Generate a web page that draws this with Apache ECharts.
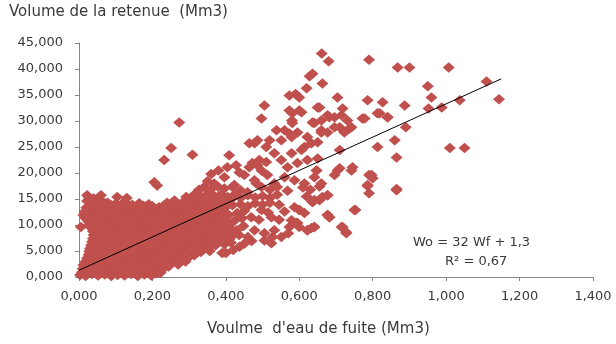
<!DOCTYPE html>
<html>
<head>
<meta charset="utf-8">
<script src="https://cdn.jsdelivr.net/npm/echarts@6/dist/echarts.min.js"></script>
<style>
  html, body { margin: 0; padding: 0; background: #fff; }
  #main { width: 616px; height: 344px; }
</style>
</head>
<body>
<div id="main"></div>
<script>
// x ticks / y ticks
var xTicks = [0, 0.2, 0.4, 0.6, 0.8, 1.0, 1.2, 1.4];
var yTicks = [0, 5, 10, 15, 20, 25, 30, 35, 40, 45];

// dense cluster near origin (row by row)
var blobPoints = [
  [0.003,0.4],[0.018,0.2],[0.035,0.6],[0.052,0.3],[0.07,0.5],[0.088,0.2],[0.105,0.4],[0.124,0.3],[0.142,0.6],[0.16,0.2],[0.178,0.5],[0.197,0.3],[0.212,0.7],
  [0.01,1.6],[0.027,1.2],[0.045,1.8],[0.063,1.4],[0.08,1.7],[0.098,1.3],[0.116,1.9],[0.134,1.5],[0.152,1.2],[0.17,1.8],[0.188,1.4],[0.206,1.7],[0.225,1.3],
  [0.018,3.0],[0.036,2.6],[0.054,3.1],[0.072,2.7],[0.09,3.0],[0.108,2.5],[0.126,3.2],[0.144,2.8],[0.162,2.6],[0.18,3.1],[0.198,2.7],[0.216,3.0],[0.234,2.6],[0.252,2.9],[0.27,2.4],
  [0.026,4.3],[0.044,3.9],[0.062,4.4],[0.08,4.0],[0.098,4.2],[0.116,3.8],[0.134,4.5],[0.152,4.1],[0.17,3.9],[0.188,4.4],[0.206,4.0],[0.224,4.3],[0.242,3.9],[0.26,4.4],[0.278,4.0],[0.296,3.6],[0.314,4.2],
  [0.03,5.5],[0.05,5.2],[0.068,5.7],[0.086,5.3],[0.104,5.6],[0.122,5.1],[0.14,5.8],[0.158,5.4],[0.176,5.2],[0.194,5.7],[0.212,5.3],[0.23,5.6],[0.248,5.2],[0.266,5.7],[0.284,5.3],[0.302,5.6],[0.32,5.1],[0.338,5.5],[0.356,5.0],
  [0.036,6.8],[0.054,6.5],[0.072,7.0],[0.09,6.6],[0.108,6.9],[0.126,6.4],[0.144,7.1],[0.162,6.7],[0.18,6.5],[0.198,7.0],[0.216,6.6],[0.234,6.9],[0.252,6.5],[0.27,7.0],[0.288,6.6],[0.306,6.9],[0.324,6.4],[0.342,6.9],[0.36,6.5],[0.378,6.8],[0.396,6.3],
  [0.04,8.1],[0.058,7.8],[0.076,8.3],[0.094,7.9],[0.112,8.2],[0.13,7.7],[0.148,8.4],[0.166,8.0],[0.184,7.8],[0.202,8.3],[0.22,7.9],[0.238,8.2],[0.256,7.8],[0.274,8.3],[0.292,7.9],[0.31,8.2],[0.328,7.7],[0.346,8.2],[0.364,7.8],[0.382,8.1],[0.40,7.6],[0.418,8.0],
  [0.005,9.6],[0.034,9.4],[0.052,9.1],[0.07,9.6],[0.088,9.2],[0.106,9.5],[0.124,9.0],[0.142,9.7],[0.16,9.3],[0.178,9.1],[0.196,9.6],[0.214,9.2],[0.232,9.5],[0.25,9.1],[0.268,9.6],[0.286,9.2],[0.304,9.5],[0.322,9.0],[0.34,9.5],[0.358,9.1],[0.376,9.4],[0.394,8.9],[0.412,9.3],[0.43,9.0],
  [0.025,10.7],[0.043,10.4],[0.061,10.9],[0.079,10.5],[0.097,10.8],[0.115,10.3],[0.133,11.0],[0.151,10.6],[0.169,10.4],[0.187,10.9],[0.205,10.5],[0.223,10.8],[0.241,10.4],[0.259,10.9],[0.277,10.5],[0.295,10.8],[0.313,10.3],[0.331,10.8],[0.349,10.4],[0.367,10.7],[0.385,10.2],[0.403,10.6],
  [0.012,11.9],[0.03,12.1],[0.048,11.7],[0.066,12.2],[0.084,11.8],[0.102,12.1],[0.12,11.6],[0.138,12.3],[0.156,11.9],[0.174,11.7],[0.192,12.2],[0.21,11.8],[0.228,12.1],[0.246,11.7],[0.264,12.2],[0.282,11.8],[0.30,12.1],[0.318,11.6],[0.336,12.1],[0.354,11.7],[0.372,12.0],[0.39,11.5],[0.408,11.9],
  [0.02,13.3],[0.038,13.0],[0.056,13.5],[0.074,13.1],[0.092,13.4],[0.11,12.9],[0.128,13.6],[0.146,13.2],[0.164,13.0],[0.182,13.5],[0.20,13.1],[0.218,13.4],[0.236,13.0],[0.254,13.3],[0.272,12.9],[0.29,13.4],[0.308,13.0],[0.326,13.5],[0.344,13.1],[0.362,13.4],[0.38,12.9],[0.398,13.3],
  [0.022,14.6],[0.042,14.2],[0.06,14.8],[0.078,14.3],[0.1,14.1],[0.123,14.4],[0.145,13.9],[0.164,14.2],[0.19,14.0],[0.24,14.3],[0.26,14.7],[0.28,14.2],[0.31,14.6],[0.328,14.2],[0.346,14.7],[0.364,14.3],[0.382,14.6],[0.40,14.2],
  [0.022,15.7],[0.06,15.7],[0.027,15.2],[0.104,15.4],[0.13,15.2],[0.292,15.4],[0.315,15.9],[0.333,15.5],[0.351,16.0],[0.369,15.6],[0.387,15.9],[0.405,15.4],[0.423,15.8],
  [0.205,18.2],[0.213,17.6],[0.327,16.8],[0.341,17.3],[0.36,16.9],[0.378,17.4],[0.396,17.0],[0.418,17.3],[0.368,18.0],[0.35,18.4]
];

// in-between rows of the same cluster
var blobFill = [
  [0.008,0.9],[0.026,1.0],[0.044,0.8],[0.062,1.1],[0.08,0.9],[0.098,0.8],[0.116,1.0],[0.134,0.9],[0.152,1.1],[0.17,0.8],[0.188,1.0],[0.206,0.9],[0.222,0.8],
  [0.012,2.3],[0.03,2.1],[0.048,2.4],[0.066,2.0],[0.084,2.3],[0.102,2.1],[0.12,2.4],[0.138,2.0],[0.156,2.2],[0.174,2.4],[0.192,2.0],[0.21,2.3],[0.228,2.1],[0.244,2.0],
  [0.022,3.6],[0.04,3.4],[0.058,3.7],[0.076,3.3],[0.094,3.6],[0.112,3.4],[0.13,3.7],[0.148,3.3],[0.166,3.5],[0.184,3.7],[0.202,3.3],[0.22,3.6],[0.238,3.4],[0.256,3.7],[0.274,3.3],[0.29,3.0],
  [0.028,4.9],[0.046,4.6],[0.064,5.0],[0.082,4.7],[0.1,4.9],[0.118,4.5],[0.136,5.0],[0.154,4.7],[0.172,4.6],[0.19,5.0],[0.208,4.7],[0.226,4.9],[0.244,4.6],[0.262,5.0],[0.28,4.7],[0.298,4.9],[0.316,4.6],[0.332,4.8],
  [0.033,6.1],[0.051,5.9],[0.069,6.3],[0.087,6.0],[0.105,6.2],[0.123,5.8],[0.141,6.4],[0.159,6.0],[0.177,5.9],[0.195,6.3],[0.213,6.0],[0.231,6.2],[0.249,5.8],[0.267,6.3],[0.285,6.0],[0.303,6.2],[0.321,5.8],[0.339,6.2],[0.357,5.9],[0.372,6.1],
  [0.038,7.4],[0.056,7.2],[0.074,7.6],[0.092,7.3],[0.11,7.5],[0.128,7.1],[0.146,7.7],[0.164,7.3],[0.182,7.2],[0.2,7.6],[0.218,7.3],[0.236,7.5],[0.254,7.1],[0.272,7.6],[0.29,7.3],[0.308,7.5],[0.326,7.1],[0.344,7.5],[0.362,7.2],[0.38,7.4],[0.398,7.0],[0.41,7.3],
  [0.038,8.8],[0.056,8.5],[0.074,8.9],[0.092,8.6],[0.11,8.8],[0.128,8.4],[0.146,9.0],[0.164,8.7],[0.182,8.5],[0.2,8.9],[0.218,8.6],[0.236,8.8],[0.254,8.4],[0.272,8.9],[0.29,8.6],[0.308,8.8],[0.326,8.4],[0.344,8.8],[0.362,8.5],[0.38,8.7],[0.398,8.3],[0.42,8.6],
  [0.028,10.1],[0.046,9.8],[0.064,10.2],[0.082,9.9],[0.1,10.1],[0.118,9.7],[0.136,10.3],[0.154,10.0],[0.172,9.8],[0.19,10.2],[0.208,9.9],[0.226,10.1],[0.244,9.7],[0.262,10.2],[0.28,9.9],[0.298,10.1],[0.316,9.7],[0.334,10.1],[0.352,9.8],[0.37,10.0],[0.388,9.6],[0.41,9.9],
  [0.018,11.3],[0.036,11.1],[0.054,11.5],[0.072,11.2],[0.09,11.4],[0.108,11.0],[0.126,11.6],[0.144,11.3],[0.162,11.1],[0.18,11.5],[0.198,11.2],[0.216,11.4],[0.234,11.0],[0.252,11.5],[0.27,11.2],[0.288,11.4],[0.306,11.0],[0.324,11.4],[0.342,11.1],[0.36,11.3],[0.378,10.9],[0.396,11.2],
  [0.016,12.6],[0.034,12.4],[0.052,12.8],[0.07,12.5],[0.088,12.7],[0.106,12.3],[0.124,12.9],[0.142,12.6],[0.16,12.4],[0.178,12.8],[0.196,12.5],[0.214,12.7],[0.232,12.3],[0.25,12.8],[0.268,12.5],[0.286,12.7],[0.304,12.3],[0.322,12.7],[0.34,12.4],[0.358,12.6],[0.376,12.2],[0.394,12.6],
  [0.03,13.9],[0.05,13.7],[0.068,14.0],[0.088,13.8],[0.11,13.6],[0.135,13.8],[0.155,13.5],[0.175,13.7],[0.2,13.6],[0.23,13.7],[0.25,13.9],[0.27,13.6],[0.29,14.0],[0.318,13.8],[0.336,13.6],[0.354,14.0],[0.372,13.7],[0.39,14.0],
  [0.04,15.1],[0.3,15.0],[0.32,15.3],[0.34,15.1],[0.36,15.2],[0.378,15.0],[0.396,15.1],[0.414,14.9]
];

// middle band, x about 0.4 to 0.68
var midPoints = [
  [0.39,4.6],[0.40,4.6],[0.437,5.8],[0.42,5.2],
  [0.414,6.6],[0.45,6.4],[0.47,6.9],[0.524,6.5],[0.505,7.0],
  [0.436,8.1],[0.46,7.7],[0.478,9.0],[0.505,8.4],[0.532,9.0],[0.527,7.7],[0.551,7.7],[0.57,8.4],
  [0.448,9.8],[0.573,9.6],[0.595,10.4],[0.579,10.9],[0.633,9.4],[0.60,9.6],[0.622,9.0],[0.641,9.6],
  [0.425,10.9],[0.444,11.3],[0.469,11.5],[0.49,11.0],[0.524,11.5],[0.545,11.0],[0.592,10.4],[0.614,12.3],[0.60,12.9],[0.677,11.9],[0.682,11.5],
  [0.431,12.3],[0.45,12.7],[0.497,12.9],[0.515,12.4],[0.56,12.6],[0.587,13.4],
  [0.418,13.8],[0.44,14.0],[0.46,13.6],[0.48,14.2],[0.50,13.9],[0.52,14.3],[0.545,13.9],[0.636,14.4],[0.641,14.8],[0.655,14.8],
  [0.44,15.2],[0.46,15.7],[0.48,15.3],[0.50,15.6],[0.52,15.2],[0.54,15.8],[0.62,15.5],[0.663,15.4],[0.677,15.7],
  [0.44,16.7],[0.459,16.3],[0.483,18.0],[0.497,17.3],[0.52,16.8],[0.54,17.3],[0.568,16.6],[0.61,17.2],[0.63,16.8],[0.655,17.4],[0.66,18.0],
  [0.423,17.7],[0.478,18.6],[0.532,18.0],[0.587,18.6],[0.614,18.0],[0.641,19.2],[0.396,19.2],[0.45,19.6],[0.513,19.6],[0.56,19.2],
  [0.437,20.1],[0.404,21.1],[0.428,21.5],[0.464,21.1],[0.472,21.9],[0.486,21.5],[0.491,22.5],[0.51,22.1],[0.497,20.5],[0.532,23.8],[0.551,22.5],[0.579,23.8],[0.606,24.4],[0.568,21.1],[0.595,21.9],[0.622,22.5],[0.65,22.8],[0.647,20.5],[0.409,23.4],[0.38,20.5],[0.36,19.8],
  [0.464,25.7],[0.478,25.7],[0.486,26.3],[0.51,25.0],[0.519,26.3],[0.538,28.2],[0.551,26.3],[0.56,28.2],[0.573,27.6],[0.579,26.9],[0.581,29.6],[0.595,27.8],[0.622,26.9],[0.614,25.0],[0.633,25.7],[0.66,27.8],
  [0.497,30.5],[0.505,33.0],[0.581,31.5],[0.606,31.7],[0.65,32.6],[0.66,30.1],[0.641,29.6]
];

// scattered points, upper and right
var outerPoints = [
  [0.273,29.7],[0.251,24.8],[0.232,22.5],[0.309,23.5],
  [0.661,43.0],[0.68,41.5],[0.79,41.8],[0.868,40.3],[0.90,40.3],[1.007,40.3],[1.11,37.6],[1.144,34.2],[1.037,34.0],[0.988,32.6],[0.96,34.5],[0.95,36.7],[0.952,32.4],
  [0.887,33.0],[0.89,28.8],[0.86,26.3],[0.865,23.0],[0.865,16.7],[0.813,25.0],[0.79,19.6],[0.80,19.0],[0.786,17.5],[0.79,16.1],[1.01,24.8],[1.05,24.8],
  [0.786,34.0],[0.827,33.6],[0.813,31.5],[0.84,30.7],[0.772,30.5],[0.753,12.9],[0.715,9.6],[0.728,8.6],[0.682,11.5],[0.704,34.5],[0.71,24.4],
  [0.636,39.1],[0.628,38.6],[0.663,37.2],[0.62,36.3],[0.573,34.9],[0.6,34.5],[0.59,35.2],[0.573,32.0],[0.6,32.0],[0.655,32.6],[0.718,32.4],
  [0.682,30.7],[0.737,28.6],[0.71,28.8],[0.636,29.7],[0.58,30.1],[0.745,21.1],[0.71,20.9],[0.696,19.6],[0.677,15.7],[0.636,14.4],[0.6,12.9],[0.592,10.4],[0.622,9.0],
  [0.677,31.1],[0.696,30.7],[0.715,31.1],[0.731,30.1],[0.696,28.8],[0.66,28.2],[0.742,28.8],[0.723,27.8],[0.677,27.8],[0.65,25.9],
  [0.778,30.5],[0.819,31.5],[0.841,30.7],[0.704,20.5],[0.742,20.5],[0.797,19.6],[0.786,17.7],[0.865,16.9],[0.647,20.5],
  [0.655,14.8],[0.75,12.9],[0.677,11.9],[0.718,9.6],[0.728,8.4],[0.641,9.6]
];

// trend line Wo = 32 Wf + 1.3
var trendX = [0, 1.15];
var trendY = [1.3, 38.1];

var allPoints = blobPoints.concat(blobFill, midPoints, outerPoints);
var trendData = trendX.map(function (x, i) { return [x, trendY[i]]; });

var chart = echarts.init(document.getElementById('main'));

function fmt3(v) {
    return v.toFixed(3).replace('.', ',');
}

var labelFont = '"DejaVu Sans", sans-serif';
var red = '#c0504d';

var option = {
    animation: false,
    backgroundColor: '#ffffff',
    grid: {
        left: 79,
        right: 23,
        top: 43,
        bottom: 67
    },
    xAxis: {
        type: 'value',
        min: xTicks[0],
        max: xTicks[xTicks.length - 1],
        interval: 0.2,
        splitLine: { show: false },
        axisLine: { lineStyle: { color: '#868686' } },
        axisTick: { show: true, length: 4, lineStyle: { color: '#868686' } },
        axisLabel: {
            color: '#3a3a3a',
            fontFamily: labelFont,
            fontSize: 13,
            margin: 13,
            formatter: fmt3
        }
    },
    yAxis: {
        type: 'value',
        min: yTicks[0],
        max: yTicks[yTicks.length - 1],
        interval: 5,
        splitLine: { show: false },
        axisLine: { show: true, lineStyle: { color: '#868686' } },
        axisTick: { show: true, length: 4, lineStyle: { color: '#868686' } },
        axisLabel: {
            color: '#3a3a3a',
            fontFamily: labelFont,
            fontSize: 13,
            margin: 16,
            formatter: fmt3
        }
    },
    graphic: [
        {
            type: 'text', left: 9, top: 5,
            style: { text: 'Volume de la retenue  (Mm3)', fill: '#3a3a3a', font: '15px ' + labelFont }
        },
        {
            type: 'text', left: 207, top: 322,
            style: { text: "Voulme  d'eau de fuite (Mm3)", fill: '#3a3a3a', font: '15px ' + labelFont }
        },
        {
            type: 'text', left: 413, top: 236,
            style: { text: 'Wo = 32 Wf + 1,3', fill: '#3a3a3a', font: '13px ' + labelFont }
        },
        {
            type: 'text', left: 445, top: 255,
            style: { text: 'R² = 0,67', fill: '#3a3a3a', font: '13px ' + labelFont }
        }
    ],
    series: [
        {
            name: 'Volume',
            type: 'scatter',
            symbol: 'diamond',
            symbolSize: [12, 10.5],
            itemStyle: { color: red, opacity: 1 },
            data: allPoints,
            z: 2
        },
        {
            name: 'Tendance',
            type: 'line',
            data: trendData,
            symbol: 'none',
            lineStyle: { color: '#000000', width: 1 },
            z: 3
        }
    ]
};

chart.setOption(option);
</script>
</body>
</html>
